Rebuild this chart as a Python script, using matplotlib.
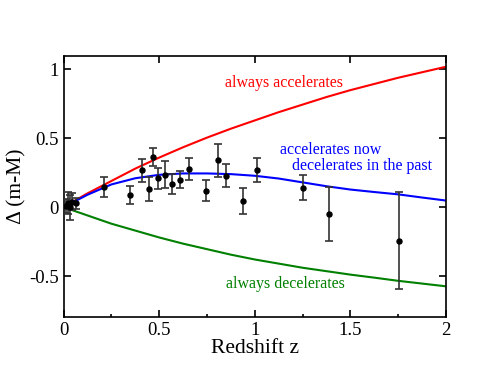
import numpy as np
import matplotlib
matplotlib.use("Agg")
import matplotlib.pyplot as plt
from matplotlib.ticker import MultipleLocator

plt.rcParams['font.family'] = ['Liberation Serif', 'DejaVu Serif']

# model curves
z_model = [0.0, 0.125, 0.25, 0.375, 0.5, 0.625, 0.75, 0.875, 1.0, 1.125,
           1.25, 1.375, 1.5, 1.625, 1.75, 1.875, 2.0]
accel = [0.0, 0.10, 0.19, 0.28, 0.36, 0.435, 0.505, 0.57, 0.63, 0.69,
         0.745, 0.80, 0.85, 0.895, 0.94, 0.98, 1.02]
accel_now = [0.0, 0.09, 0.165, 0.21, 0.235, 0.245, 0.245, 0.24, 0.228, 0.208,
             0.18, 0.152, 0.128, 0.11, 0.093, 0.07, 0.048]
decel = [0.0, -0.06, -0.12, -0.17, -0.22, -0.265, -0.305, -0.345, -0.38, -0.41,
         -0.44, -0.465, -0.49, -0.512, -0.535, -0.555, -0.575]

# binned supernova data
z_data = [0.015, 0.025, 0.035, 0.045, 0.065, 0.21, 0.345, 0.41, 0.449, 0.468,
          0.494, 0.529, 0.565, 0.607, 0.656, 0.747, 0.81, 0.85, 0.937, 1.01,
          1.25, 1.387, 1.754]
dm_data = [0.01, 0.03, 0.0, 0.04, 0.03, 0.145, 0.088, 0.267, 0.13, 0.365,
           0.21, 0.235, 0.17, 0.20, 0.277, 0.12, 0.34, 0.23, 0.044, 0.27,
           0.142, -0.051, -0.243]
dm_err = [0.05, 0.08, 0.09, 0.06, 0.04, 0.071, 0.065, 0.083, 0.086, 0.063,
          0.077, 0.097, 0.074, 0.064, 0.077, 0.075, 0.12, 0.087, 0.097, 0.085,
          0.092, 0.194, 0.353]

fig = plt.figure(figsize=(4.85, 3.74), dpi=100)
ax = fig.add_axes([0.131, 0.1516, 0.7886, 0.6994])

ax.plot(z_model, accel, color='#ff0000', lw=1.5)
ax.plot(z_model, accel_now, color='#0000ff', lw=1.5)
ax.plot(z_model, decel, color='#008000', lw=1.5)
ax.errorbar(z_data, dm_data, yerr=dm_err, fmt='o', color='black', ecolor='#333333',
            ms=3.6, elinewidth=1.2, capsize=3, capthick=1.2, zorder=5)

ax.text(0.845, 0.90, 'always accelerates', color='#ff0000', fontsize=11.5, va='center')
ax.text(1.13, 0.415, 'accelerates now', color='#0000ff', fontsize=11.5, va='center')
ax.text(1.195, 0.30, 'decelerates in the past', color='#0000ff', fontsize=11.5, va='center')
ax.text(0.85, -0.555, 'always decelerates', color='#008000', fontsize=11.5, va='center')

ax.set_xlim(0, 2)
ax.set_ylim(-0.8, 1.1)
ax.xaxis.set_major_locator(MultipleLocator(0.5))
ax.xaxis.set_minor_locator(MultipleLocator(0.25))
ax.yaxis.set_major_locator(MultipleLocator(0.5))
ax.xaxis.set_major_formatter(plt.FuncFormatter(lambda v, p: f'{v:g}'))
ax.yaxis.set_major_formatter(plt.FuncFormatter(lambda v, p: f'{v:g}'))
ax.tick_params(which='major', direction='in', length=5, width=1.2, labelsize=13.5,
               top=True, right=True)
ax.tick_params(which='minor', direction='in', length=2.5, width=1.2, top=False)
for s in ax.spines.values():
    s.set_linewidth(1.2)

ax.set_xlabel('Redshift z', fontsize=15.5, labelpad=0)
ax.set_ylabel('Δ (m-M)', fontsize=15.5, labelpad=2)

fig.savefig('out.png', dpi=100)
